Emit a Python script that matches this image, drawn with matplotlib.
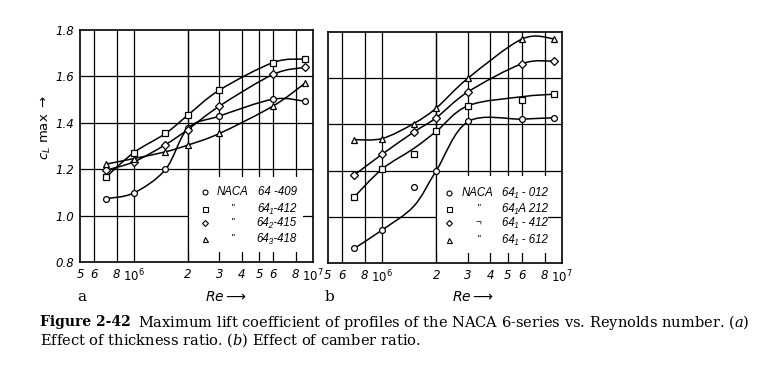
import numpy as np
import matplotlib
matplotlib.use("Agg")
import matplotlib.pyplot as plt
from matplotlib.path import Path
from matplotlib.patches import PathPatch, Rectangle

plt.rcParams["font.family"] = ["DejaVu Sans"]
plt.rcParams["mathtext.fontset"] = "dejavusans"

KEY_FONT = ["Liberation Sans", "DejaVu Sans"]

# Reynolds numbers of the measured points
re = [7e5, 1e6, 1.5e6, 2e6, 3e6, 6e6, 9e6]

# panel a: effect of thickness ratio
a_names = ["64 -409", "64\u2081-412", "64\u2082-415", "64\u2083-418"]
a_ditto = ["NACA", '"', '"', '"']
a_markers = ["o", "s", "D", "^"]
a_409 = [1.073, 1.098, 1.199, 1.376, 1.429, 1.502, 1.493]
a_412 = [1.167, 1.272, 1.354, 1.433, 1.541, 1.660, 1.675]
a_415 = [1.196, 1.232, 1.306, 1.371, 1.472, 1.609, 1.639]
a_418 = [1.222, 1.246, 1.275, 1.304, 1.354, 1.473, 1.570]
a_pts = [a_409, a_412, a_415, a_418]
a_curves = a_pts

# panel b: effect of camber ratio
b_names = ["64\u2081 - 012", "64\u2081A 212", "64\u2081 - 412", "64\u2081 - 612"]
b_ditto = ["NACA", '"', "\u00ac", '"']
b_markers = ["o", "s", "D", "^"]
b_012 = [0.863, 0.943, 1.129, 1.200, 1.417, 1.423, 1.429]
b_212 = [1.086, 1.207, 1.270, 1.370, 1.481, 1.506, 1.531]
b_412 = [1.181, 1.271, 1.367, 1.429, 1.541, 1.663, 1.674]
b_612 = [1.334, 1.339, 1.404, 1.471, 1.600, 1.770, 1.771]
b_pts = [b_012, b_212, b_412, b_612]
# faired curves (some points lie off the curve)
b_012_curve = [0.863, 0.943, 1.046, 1.200, 1.412, 1.423, 1.429]
b_212_curve = [1.086, 1.207, 1.296, 1.370, 1.481, 1.520, 1.531]
b_curves = [b_012_curve, b_212_curve, b_412, b_612]

grid_x = [6e5, 8e5, 1e6, 2e6, 3e6, 4e6, 5e6, 6e6, 8e6]
tick_x = [5e5, 6e5, 8e5, 1e6, 2e6, 3e6, 4e6, 5e6, 6e6, 8e6, 1e7]
tick_x_lab = ["5", "6", "8", "$10^6$", "2", "3", "4", "5", "6", "8", "$10^7$"]
tick_y = [0.8, 1.0, 1.2, 1.4, 1.6, 1.8]


def smooth_path(xs, ys):
    # catmull-rom through the points in (log x, y), drawn as bezier segments
    lx = np.log10(xs)
    p = np.column_stack([lx, ys])
    p = np.vstack([p[0], p, p[-1]])
    verts = [p[1]]
    codes = [Path.MOVETO]
    for i in range(1, len(p) - 2):
        c1 = p[i] + (p[i + 1] - p[i - 1]) / 6
        c2 = p[i + 1] - (p[i + 2] - p[i]) / 6
        verts += [c1, c2, p[i + 1]]
        codes += [Path.CURVE4] * 3
    verts = np.array(verts)
    verts[:, 0] = 10 ** verts[:, 0]
    return Path(verts, codes)


def panel(ax, pts, curves, markers, ditto, names, box_top, box_right, rows, cols):
    ax.set_xscale("log")
    ax.set_xlim(5e5, 1e7)
    ax.set_ylim(0.8, 1.8)
    for g in grid_x:
        ax.axvline(g, color="black", lw=0.9, zorder=1)
    for g in tick_y[1:-1]:
        ax.axhline(g, color="black", lw=0.9, zorder=1)
    # blank area behind the key
    ax.add_patch(Rectangle((2e6, 0.845), box_right - 2e6, box_top - 0.845,
                           facecolor="white", edgecolor="none", zorder=2))
    ax.axvline(2e6, color="black", lw=0.9, zorder=2)
    for c, p, m in zip(curves, pts, markers):
        ax.add_patch(PathPatch(smooth_path(re, c), fill=False, color="black",
                               lw=1.1, zorder=3))
        ax.plot(re, p, ls="none", marker=m, ms=4.2 if m != "D" else 3.6,
                mfc="white", mec="black", mew=0.9, zorder=4)
    for i, (m, d, n) in enumerate(zip(markers, ditto, names)):
        y = rows[i]
        ax.plot([cols[0]], [y], ls="none", marker=m, ms=3.6 if m != "D" else 3.0,
                mfc="white", mec="black", mew=0.8, transform=ax.transAxes, zorder=5)
        if d == "NACA":
            ax.text(cols[1], y, d, transform=ax.transAxes, ha="left", va="center",
                    fontsize=8.3, style="italic", family=KEY_FONT, zorder=5)
        else:
            ax.text(cols[2], y, d, transform=ax.transAxes, ha="center", va="center",
                    fontsize=7, style="italic", family=KEY_FONT, zorder=5)
        ax.text(cols[3], y, n, transform=ax.transAxes, ha="right", va="center",
                fontsize=8.3, style="italic", family=KEY_FONT, zorder=5)
    ax.set_xticks(tick_x)
    ax.set_xticklabels(tick_x_lab, fontsize=8.5, style="italic")
    ax.xaxis.set_minor_locator(matplotlib.ticker.NullLocator())
    ax.set_yticks(tick_y)
    ax.tick_params(length=0, pad=4)
    for s in ax.spines.values():
        s.set_linewidth(1.2)


fig = plt.figure(figsize=(7.8, 3.83), dpi=100)
ax_a = fig.add_axes([0.1026, 0.3159, 0.2987, 0.6057])
ax_b = fig.add_axes([0.4205, 0.3133, 0.3000, 0.6030])

panel(ax_a, a_pts, a_curves, a_markers, a_ditto, a_names, 1.168, 8.8e6,
      [0.302, 0.228, 0.168, 0.099], [0.536, 0.585, 0.652, 0.931])
panel(ax_b, b_pts, b_curves, b_markers, b_ditto, b_names, 1.177, 8.4e6,
      [0.303, 0.234, 0.173, 0.100], [0.517, 0.570, 0.641, 0.940])

ax_a.set_yticklabels(["0.8", "1.0", "1.2", "1.4", "1.6", "1.8"], fontsize=8.5, style="italic")
ax_b.set_yticklabels([])
ax_a.set_ylabel(r"$c_L$ max $\rightarrow$", fontsize=9.5)
ax_a.yaxis.set_label_coords(-0.118, 0.58)

fig.text(77 / 780, 1 - 297 / 383, "a", family="DejaVu Serif", fontsize=11,
         ha="left", va="center")
fig.text(325 / 780, 1 - 297 / 383, "b", family="DejaVu Serif", fontsize=11,
         ha="left", va="center")
fig.text(205 / 780, 1 - 297 / 383, r"$Re\longrightarrow$", fontsize=10,
         ha="left", va="center")
fig.text(452 / 780, 1 - 297 / 383, r"$Re\longrightarrow$", fontsize=10,
         ha="left", va="center")

head = fig.text(40 / 780, 1 - 322 / 383, "Figure 2-42", family="DejaVu Serif",
                weight="bold", fontsize=10, ha="left", va="center")
bb = head.get_window_extent(renderer=fig.canvas.get_renderer())
fig.text((bb.x1 + 7) / fig.bbox.width, 1 - 322 / 383,
         "Maximum lift coefficient of profiles of the NACA 6-series vs. Reynolds number. ($a$)",
         family="DejaVu Serif", math_fontfamily="dejavuserif", fontsize=10.55,
         ha="left", va="center")
fig.text(40 / 780, 1 - 340 / 383, "Effect of thickness ratio. ($b$) Effect of camber ratio.",
         family="DejaVu Serif", math_fontfamily="dejavuserif", fontsize=10.55,
         ha="left", va="center")

fig.savefig("out.png", dpi=100)
